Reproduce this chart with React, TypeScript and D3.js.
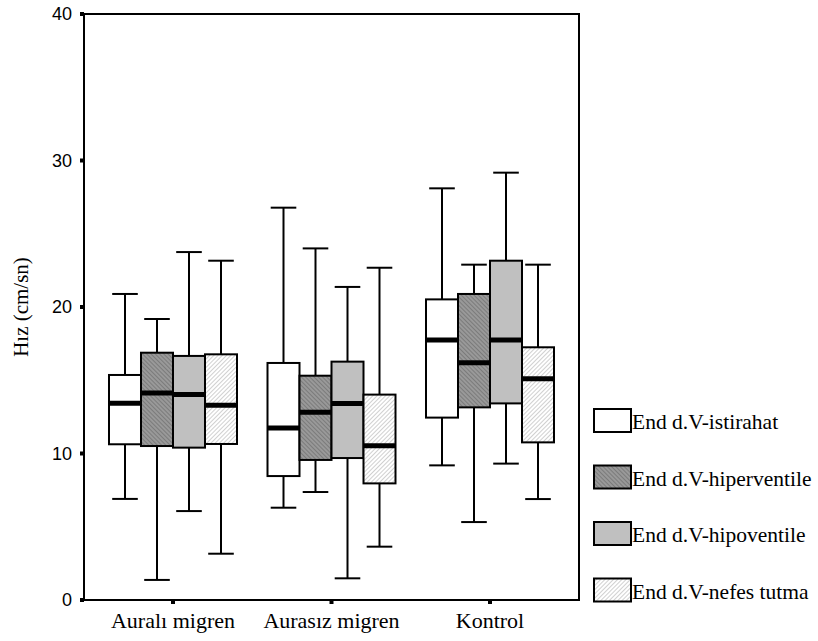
import React from "react";
import * as d3 from "d3";

const categories = ["Auralı migren", "Aurasız migren", "Kontrol"];
const seriesNames = [
  "End d.V-istirahat",
  "End d.V-hiperventile",
  "End d.V-hipoventile",
  "End d.V-nefes tutma",
];
// per series, values per category
const istirahatMin = [6.9, 6.3, 9.19];
const istirahatQ1 = [10.63, 8.46, 12.45];
const istirahatMed = [13.43, 11.74, 17.75];
const istirahatQ3 = [15.36, 16.18, 20.52];
const istirahatMax = [20.89, 26.78, 28.1];

const hiperMin = [1.37, 7.37, 5.32];
const hiperQ1 = [10.51, 9.56, 13.15];
const hiperMed = [14.13, 12.81, 16.2];
const hiperQ3 = [16.88, 15.31, 20.89];
const hiperMax = [19.18, 24.0, 22.89];

const hipoMin = [6.07, 1.48, 9.31];
const hipoQ1 = [10.4, 9.69, 13.42];
const hipoMed = [14.02, 13.42, 17.75];
const hipoQ3 = [16.66, 16.27, 23.16];
const hipoMax = [23.75, 21.37, 29.17];

const nefesMin = [3.16, 3.64, 6.89];
const nefesQ1 = [10.65, 7.96, 10.76];
const nefesMed = [13.29, 10.53, 15.11];
const nefesQ3 = [16.77, 14.02, 17.25];
const nefesMax = [23.16, 22.68, 22.89];

const yTicks = [0, 10, 20, 30, 40];

const seriesData = [
  { min: istirahatMin, q1: istirahatQ1, med: istirahatMed, q3: istirahatQ3, max: istirahatMax },
  { min: hiperMin, q1: hiperQ1, med: hiperMed, q3: hiperQ3, max: hiperMax },
  { min: hipoMin, q1: hipoQ1, med: hipoMed, q3: hipoQ3, max: hipoMax },
  { min: nefesMin, q1: nefesQ1, med: nefesMed, q3: nefesQ3, max: nefesMax },
];
const fills = ["#ffffff", "url(#hatchDark)", "#c0c0c0", "url(#hatchLight)"];

const W = 818;
const H = 641;
const left = 84;
const right = 579;
const top = 14;
const bottom = 600;

export default function App() {
  const y = d3.scaleLinear().domain([0, 40]).range([bottom, top]);
  const x = d3
    .scaleBand<string>()
    .domain(categories)
    .range([left, right])
    .paddingInner(0)
    .paddingOuter(0.0615);
  const inner = d3
    .scaleBand<string>()
    .domain(seriesNames)
    .range([-64, 64])
    .padding(0);
  const bw = inner.bandwidth();
  const capW = bw * 0.8;

  const serif = "'Liberation Serif', 'Times New Roman', serif";
  const sans = "'Liberation Sans', Arial, sans-serif";

  return (
    <svg
      width={W}
      height={H}
      style={{ position: "absolute", left: 0, top: 0, background: "#fff" }}
    >
      <defs>
        <pattern id="hatchDark" width="3" height="3" patternUnits="userSpaceOnUse" patternTransform="rotate(-45)">
          <rect width="3" height="3" fill="#999999" />
          <line x1="0" y1="0" x2="0" y2="3" stroke="#6e6e6e" strokeWidth="1.4" />
        </pattern>
        <pattern id="hatchLight" width="3" height="3" patternUnits="userSpaceOnUse" patternTransform="rotate(45)">
          <rect width="3" height="3" fill="#ffffff" />
          <line x1="0" y1="0" x2="0" y2="3" stroke="#b0b0b0" strokeWidth="1.2" />
        </pattern>
      </defs>

      {/* frame */}
      <rect x={left} y={top} width={right - left} height={bottom - top} fill="none" stroke="#000" strokeWidth={2} />

      {/* y ticks */}
      {yTicks.map((t) => (
        <g key={t}>
          <rect x={left - 4} y={y(t) - 2} width={4} height={4} fill="#000" />
          <text
            x={72}
            y={y(t)}
            textAnchor="end"
            dominantBaseline="central"
            fontFamily={sans}
            fontSize={18}
            fill="#000"
          >
            {t}
          </text>
        </g>
      ))}

      {/* x ticks and labels */}
      {categories.map((c) => {
        const cx = (x(c) as number) + x.bandwidth() / 2;
        return (
          <g key={c}>
            <rect x={cx - 2} y={bottom} width={4} height={4} fill="#000" />
            <text x={cx} y={628} textAnchor="middle" fontFamily={serif} fontSize={22} fill="#000">
              {c}
            </text>
          </g>
        );
      })}

      {/* y title */}
      <text
        transform={`translate(28, 307) rotate(-90)`}
        textAnchor="middle"
        fontFamily={serif}
        fontSize={21}
        fill="#000"
      >
        Hız (cm/sn)
      </text>

      {/* boxes */}
      {categories.map((c, ci) => {
        const cx = (x(c) as number) + x.bandwidth() / 2;
        return (
          <g key={c}>
            {seriesNames.map((s, si) => {
              const d = seriesData[si];
              const bx = cx + (inner(s) as number);
              const mx = bx + bw / 2;
              return (
                <g key={s}>
                  <line x1={mx} x2={mx} y1={y(d.q3[ci])} y2={y(d.max[ci])} stroke="#000" strokeWidth={2} />
                  <line x1={mx} x2={mx} y1={y(d.q1[ci])} y2={y(d.min[ci])} stroke="#000" strokeWidth={2} />
                  <line x1={mx - capW / 2} x2={mx + capW / 2} y1={y(d.max[ci])} y2={y(d.max[ci])} stroke="#000" strokeWidth={2} />
                  <line x1={mx - capW / 2} x2={mx + capW / 2} y1={y(d.min[ci])} y2={y(d.min[ci])} stroke="#000" strokeWidth={2} />
                  <rect
                    x={bx}
                    y={y(d.q3[ci])}
                    width={bw}
                    height={y(d.q1[ci]) - y(d.q3[ci])}
                    fill={fills[si]}
                    stroke="#000"
                    strokeWidth={2}
                  />
                  <line x1={bx} x2={bx + bw} y1={y(d.med[ci])} y2={y(d.med[ci])} stroke="#000" strokeWidth={5} />
                </g>
              );
            })}
          </g>
        );
      })}

      {/* legend */}
      {seriesNames.map((s, si) => {
        const ly = 409 + si * 56.5;
        return (
          <g key={s}>
            <rect x={594} y={ly} width={37} height={23} fill={fills[si]} stroke="#000" strokeWidth={2} />
            <text x={632} y={ly + 20} fontFamily={serif} fontSize={21.5} fill="#000">
              {s}
            </text>
          </g>
        );
      })}
    </svg>
  );
}
